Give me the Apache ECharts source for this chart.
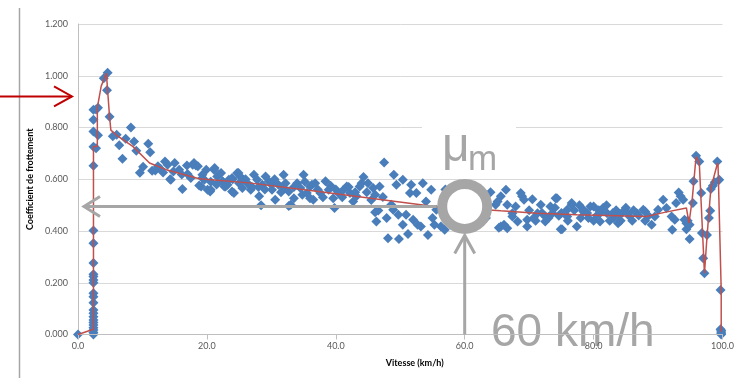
<!DOCTYPE html>
<html>
<head>
<meta charset="utf-8">
<script src="https://cdn.jsdelivr.net/npm/echarts@6/dist/echarts.min.js"></script>
<style>
  html, body {margin: 0; padding: 0; background: #fff;}
  #chart {width: 737px; height: 378px;}
</style>
</head>
<body>
<div id="chart"></div>
<script>
  // speed (km/h), friction coefficient
  const launchPoints = [
    [0, 0], [2.4, 0.0], [2.4, 0.008], [2.4, 0.017], [2.4, 0.026], [2.4, 0.037], [2.4, 0.046],
    [2.4, 0.056], [2.4, 0.069], [2.4, 0.082], [2.4, 0.095], [2.4, 0.123], [2.4, 0.146],
    [2.4, 0.159], [2.4, 0.2], [2.4, 0.211], [2.4, 0.224], [2.4, 0.233], [2.4, 0.276],
    [2.4, 0.353], [2.4, 0.402], [2.4, 0.652], [2.4, 0.726], [2.4, 0.785], [2.4, 0.83],
    [2.4, 0.869], [2.8, 0.87], [2.8, 0.72], [3.1, 0.876], [3.1, 0.77]
  ];
  const peakPoints = [
    [4.0, 0.99], [4.6, 1.012], [4.5, 0.944], [4.9, 0.842], [5.4, 0.766], [6.0, 0.772],
    [6.4, 0.731], [6.9, 0.679], [7.4, 0.757], [8.2, 0.80], [8.7, 0.746], [9.05, 0.71],
    [9.6, 0.625], [10.1, 0.648], [10.9, 0.737], [11.2, 0.704], [11.5, 0.633], [12.0, 0.634],
    [12.4, 0.65], [13.2, 0.626], [13.5, 0.669], [13.9, 0.656], [14.4, 0.598], [15.0, 0.663],
    [15.7, 0.637], [16.1, 0.618], [16.9, 0.653], [17.5, 0.605], [18.3, 0.653], [18.8, 0.576],
    [19.3, 0.605], [19.9, 0.637], [20.6, 0.59], [21.2, 0.643], [21.9, 0.618], [22.5, 0.59],
    [23.2, 0.579], [23.9, 0.605], [24.9, 0.624], [25.7, 0.598], [14.3, 0.6], [16.2, 0.562],
    [20.5, 0.553], [22.7, 0.572], [24.2, 0.547], [12.8, 0.64], [14.8, 0.63], [17.0, 0.62]
  ];
  const middlePoints = [
    [18.0, 0.663], [18.6, 0.65], [19.3, 0.617], [19.6, 0.598], [19.1, 0.572], [20.6, 0.559],
    [21.1, 0.637], [21.6, 0.611], [22.2, 0.624], [22.4, 0.592], [22.9, 0.572], [23.4, 0.598],
    [23.9, 0.553], [24.7, 0.624], [25.0, 0.585], [25.5, 0.566], [26.3, 0.585], [26.8, 0.559],
    [27.3, 0.617], [27.8, 0.598], [28.1, 0.534], [28.6, 0.579], [29.1, 0.611], [29.6, 0.592],
    [30.1, 0.559], [30.6, 0.521], [31.1, 0.579], [31.9, 0.617], [32.2, 0.585], [32.7, 0.553],
    [33.0, 0.501], [33.5, 0.527], [34.0, 0.585], [34.5, 0.566], [35.0, 0.617], [35.5, 0.547],
    [36.0, 0.572], [36.5, 0.521], [20.1, 0.559], [17.8, 0.656], [28.4, 0.5], [32.7, 0.497],
    [26.0, 0.6], [27.0, 0.57], [29.0, 0.56], [30.5, 0.6], [31.5, 0.55], [33.5, 0.57],
    [34.8, 0.54], [21.5, 0.58], [24.0, 0.6], [25.2, 0.61], [28.0, 0.57], [30.0, 0.58],
    [32.0, 0.565], [35.2, 0.59]
  ];
  const spreadPoints = [
    [36.8, 0.585], [37.6, 0.547], [38.4, 0.592], [38.9, 0.559], [39.6, 0.527], [39.8, 0.489],
    [40.4, 0.547], [41.2, 0.559], [41.7, 0.572], [42.2, 0.547], [42.7, 0.514], [43.2, 0.534],
    [43.7, 0.572], [36.0, 0.527], [36.3, 0.579], [38.0, 0.53], [40.0, 0.56], [41.0, 0.53],
    [42.0, 0.57], [43.0, 0.55], [44.8, 0.55], [45.5, 0.52], [37.2, 0.56], [39.2, 0.575],
    [47.5, 0.665], [44.3, 0.609], [44.0, 0.585], [45.0, 0.585], [45.8, 0.566], [46.8, 0.572],
    [47.3, 0.531], [46.1, 0.54], [46.6, 0.479], [46.1, 0.472], [46.3, 0.437], [47.9, 0.45],
    [48.1, 0.372], [48.6, 0.501], [49.0, 0.617], [49.4, 0.579], [48.9, 0.482], [49.7, 0.463],
    [49.8, 0.369], [50.4, 0.598], [50.4, 0.424], [50.9, 0.463], [51.2, 0.388], [51.5, 0.547],
    [51.7, 0.579], [52.0, 0.443], [52.5, 0.547], [52.7, 0.424], [53.2, 0.417], [53.5, 0.585],
    [54.0, 0.514], [54.3, 0.385], [54.8, 0.559], [55.0, 0.45], [55.3, 0.424], [55.6, 0.482],
    [56.3, 0.417], [56.9, 0.405], [57.5, 0.46], [58.0, 0.53], [58.5, 0.44], [57.0, 0.56],
    [61.8, 0.47], [62.5, 0.53], [63.3, 0.45], [64.0, 0.55], [63.0, 0.5]
  ];
  const plateauPoints = [
    [66.4, 0.559], [65.6, 0.534], [65.1, 0.514], [64.8, 0.501], [65.3, 0.413], [66.1, 0.424],
    [66.6, 0.411], [67.4, 0.456], [67.9, 0.495], [68.7, 0.547], [69.2, 0.521], [69.7, 0.443],
    [70.5, 0.523], [71.3, 0.469], [71.8, 0.501], [72.5, 0.456], [73.3, 0.495], [74.1, 0.527],
    [74.6, 0.459], [75.1, 0.407], [75.9, 0.482], [76.6, 0.508], [77.4, 0.417], [78.4, 0.482],
    [79.5, 0.495], [65.6, 0.417], [66.6, 0.501], [67.4, 0.469], [68.2, 0.437], [68.9, 0.534],
    [69.7, 0.417], [70.7, 0.45], [72.5, 0.437], [73.6, 0.469], [74.3, 0.527], [74.9, 0.407],
    [75.9, 0.456], [76.6, 0.501], [78.4, 0.475], [79.2, 0.45], [80.0, 0.495], [81.0, 0.437],
    [82.1, 0.469], [83.1, 0.45], [83.8, 0.43], [84.6, 0.475], [85.6, 0.456], [86.7, 0.469],
    [87.7, 0.482], [70.0, 0.48], [71.0, 0.44], [72.0, 0.47], [73.0, 0.45], [74.0, 0.49],
    [75.0, 0.47], [76.0, 0.44], [77.0, 0.48], [78.0, 0.45], [79.0, 0.47], [80.5, 0.46],
    [81.5, 0.49], [82.5, 0.44], [83.5, 0.48], [84.0, 0.46], [85.0, 0.49], [86.0, 0.44],
    [87.0, 0.46], [88.0, 0.44], [80.0, 0.44], [81.0, 0.47], [82.0, 0.50], [84.2, 0.44],
    [86.2, 0.48], [77.8, 0.5], [80.8, 0.48], [83.0, 0.47], [85.3, 0.47]
  ];
  const endPoints = [
    [88.0, 0.475], [88.5, 0.459], [89.0, 0.424], [89.5, 0.456], [90.0, 0.482], [90.8, 0.521],
    [91.3, 0.489], [92.1, 0.456], [92.2, 0.405], [92.6, 0.443], [92.8, 0.508], [93.2, 0.549],
    [93.5, 0.534], [93.9, 0.521], [94.1, 0.443], [94.4, 0.407], [94.4, 0.43], [94.6, 0.44],
    [94.9, 0.424], [94.9, 0.369], [95.4, 0.508], [95.5, 0.592], [95.9, 0.691], [96.4, 0.669],
    [96.7, 0.547], [96.8, 0.392], [97.0, 0.295], [97.2, 0.237], [97.6, 0.385], [97.9, 0.45],
    [98.1, 0.478], [98.2, 0.562], [98.5, 0.575], [98.8, 0.588], [99.2, 0.669], [99.5, 0.598],
    [99.7, 0.172], [99.8, 0.0], [99.8, 0.005], [99.8, 0.01], [99.8, 0.015], [99.7, 0.02]
  ];
  const trendLine = [
    [0, 0], [2.4, 0.02], [2.4, 0.727], [3.0, 0.727], [3.0, 0.877], [3.6, 0.96], [4.4, 1.01],
    [4.9, 0.84], [5.1, 0.79], [6.0, 0.77], [8.5, 0.727], [11.1, 0.663], [13.7, 0.637],
    [18.8, 0.602], [26.5, 0.586], [37.3, 0.553], [55.3, 0.495], [65.6, 0.478], [71.2, 0.469],
    [77.4, 0.463], [88.2, 0.456], [91.0, 0.472], [94.4, 0.489], [94.8, 0.43], [95.3, 0.521],
    [95.9, 0.688], [96.4, 0.663], [97.2, 0.237], [97.6, 0.379], [98.2, 0.566], [99.1, 0.65],
    [99.3, 0.663], [99.8, 0.172], [99.8, 0.011]
  ];
  const xTicks = {min: 0, max: 100, interval: 20};
  const yTicks = {min: 0, max: 1.2, interval: 0.2};
  const muPoint = [60, 0.495];
  const redArrowLevel = 0.92;

  const allPoints = [].concat(launchPoints, peakPoints, middlePoints, spreadPoints, plateauPoints, endPoints);
  const labelFont = 'Lato, "Liberation Sans", sans-serif';
  const grey = '#A6A6A6';

  const myChart = echarts.init(document.getElementById('chart'));
  myChart.setOption({
    animation: false,
    backgroundColor: '#fff',
    grid: {left: 78, right: 11, top: 24, bottom: 43.5},
    xAxis: {
      type: 'value', ...xTicks, z: 3,
      name: 'Vitesse (km/h)', nameLocation: 'middle', nameGap: 24,
      nameTextStyle: {fontFamily: labelFont, fontWeight: 'bold', fontSize: 9, color: '#000', padding: [0, 0, 0, 29]},
      axisLine: {lineStyle: {color: '#BFBFBF'}},
      axisTick: {lineStyle: {color: '#BFBFBF'}},
      splitLine: {show: false},
      axisLabel: {fontFamily: labelFont, fontSize: 9, color: '#595959', margin: 7, formatter: v => v.toFixed(1)}
    },
    yAxis: {
      type: 'value', ...yTicks,
      name: 'Coefficient de frottement', nameLocation: 'middle', nameGap: 34,
      nameTextStyle: {fontFamily: labelFont, fontWeight: 'bold', fontSize: 9, color: '#000'},
      axisLine: {show: true, lineStyle: {color: '#BFBFBF'}},
      axisTick: {show: false},
      splitLine: {lineStyle: {color: '#D9D9D9'}},
      axisLabel: {fontFamily: labelFont, fontSize: 9, color: '#595959', margin: 10, formatter: v => v.toFixed(3)}
    },
    series: [
      {
        type: 'scatter',
        data: allPoints,
        symbol: 'diamond',
        symbolSize: 10,
        itemStyle: {color: '#4A7EBB', opacity: 1}
      },
      {
        type: 'line',
        data: trendLine,
        symbol: 'none',
        lineStyle: {color: '#C0504D', width: 1.5},
        z: 3
      }
    ]
  });

  // slide annotations, placed from the data scale
  const [cx, cy] = myChart.convertToPixel({gridIndex: 0}, muPoint);
  const [x0, yBase] = myChart.convertToPixel({gridIndex: 0}, [0, 0]);
  const redY = myChart.convertToPixel({gridIndex: 0}, [0, redArrowLevel])[1];
  const tipX = x0 + 6;

  myChart.setOption({
    graphic: [
      {type: 'line', z: 100, shape: {x1: 19.5, y1: 8, x2: 19.5, y2: 378}, style: {stroke: grey, lineWidth: 1.5}},
      {type: 'line', z: 100, shape: {x1: 0, y1: redY, x2: 72, y2: redY}, style: {stroke: '#C00000', lineWidth: 2}},
      {type: 'polyline', z: 100, shape: {points: [[54, redY - 10], [72, redY], [54, redY + 10]]}, style: {stroke: '#C00000', lineWidth: 2, fill: null}},
      {type: 'rect', z: 50, shape: {x: 422, y: 112, width: 94, height: 60}, style: {fill: '#fff'}},
      {type: 'text', z: 100, style: {x: 442, y: 148, text: 'μ', fontFamily: '"Liberation Sans", Arial, sans-serif', fontSize: 48, fill: grey, verticalAlign: 'middle'}},
      {type: 'text', z: 100, style: {x: 468, y: 160, text: 'm', fontFamily: '"Liberation Sans", Arial, sans-serif', fontSize: 35, fill: grey, verticalAlign: 'middle'}},
      {type: 'line', z: 100, shape: {x1: cx - 28, y1: cy, x2: tipX, y2: cy}, style: {stroke: grey, lineWidth: 3}},
      {type: 'polyline', z: 100, shape: {points: [[tipX + 16, cy - 10], [tipX, cy], [tipX + 16, cy + 10]]}, style: {stroke: grey, lineWidth: 3, fill: null}},
      {type: 'line', z: 100, shape: {x1: cx, y1: yBase, x2: cx, y2: cy + 29}, style: {stroke: grey, lineWidth: 3}},
      {type: 'polyline', z: 100, shape: {points: [[cx - 10, cy + 47], [cx, cy + 29], [cx + 10, cy + 47]]}, style: {stroke: grey, lineWidth: 3, fill: null}},
      {type: 'circle', z: 100, shape: {cx: cx, cy: cy, r: 22.5}, style: {fill: '#fff', stroke: grey, lineWidth: 10}},
      {type: 'text', z: 1, style: {x: 491, y: 333, text: '60 km/h', fontFamily: '"Liberation Sans", Arial, sans-serif', fontSize: 46, fill: grey, verticalAlign: 'middle'}}
    ]
  });
</script>
</body>
</html>
